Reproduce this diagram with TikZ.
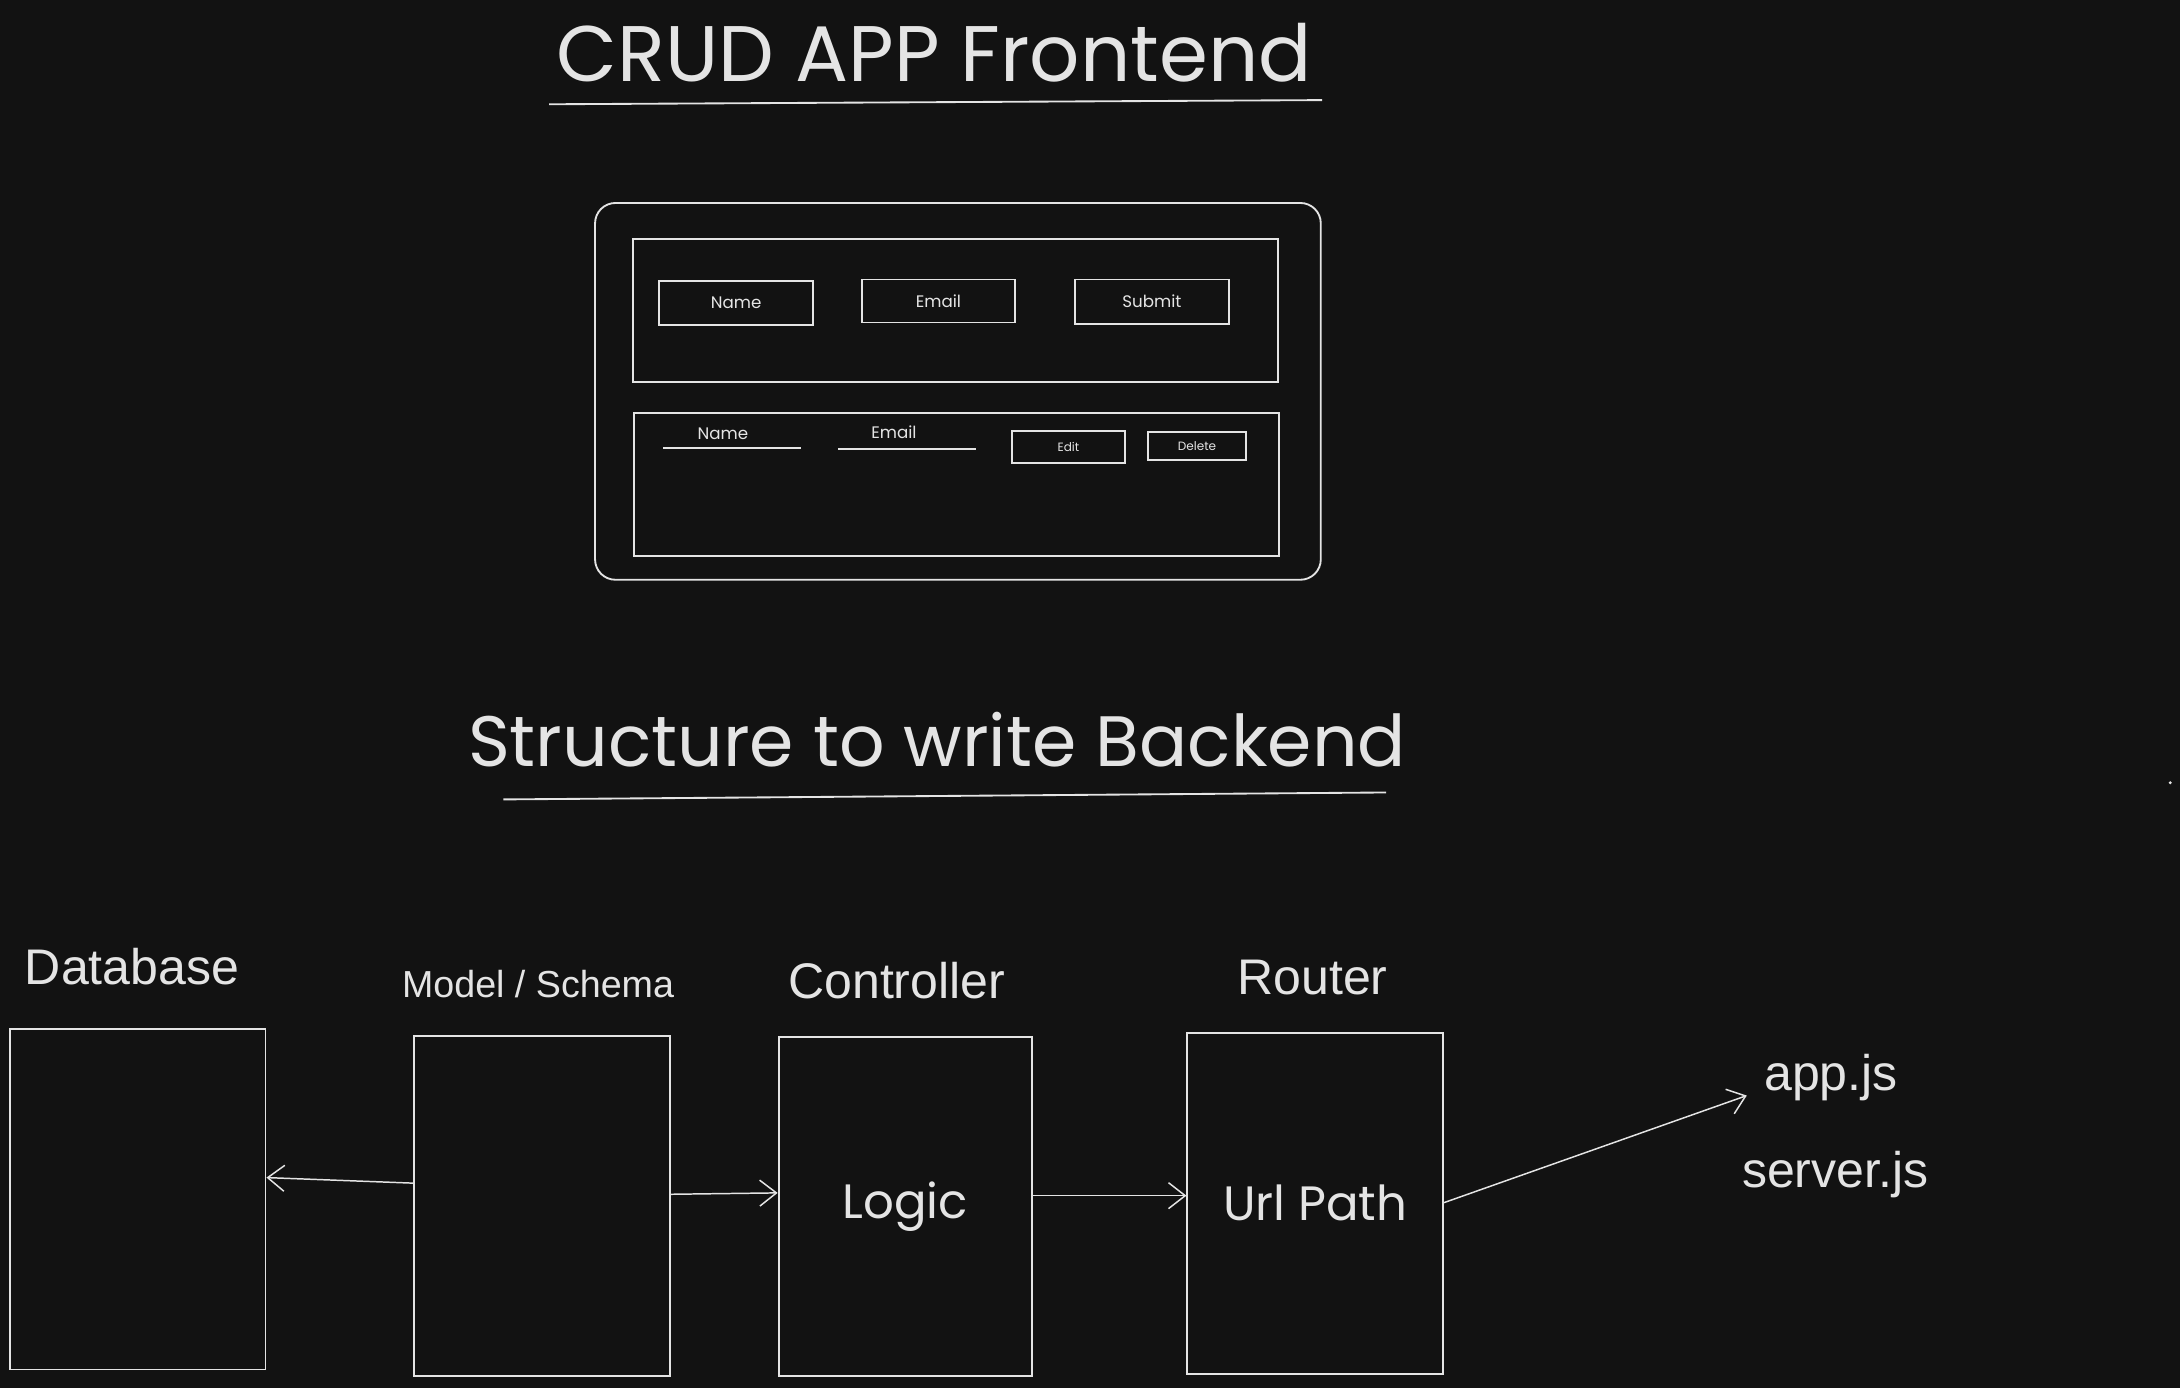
\documentclass[tikz,border=0pt]{standalone}
\usepackage{fontspec}
\setmainfont{Liberation Sans}
\newfontfamily\handfont{Poppins}
\usetikzlibrary{arrows.meta}
\definecolor{bgdark}{HTML}{121212}
\definecolor{chalk}{HTML}{E4E4E4}
\tikzset{
  sketch/.style={draw=chalk, line width=1pt},
  frame/.style={sketch, rectangle, inner sep=0pt, text=chalk, font=\handfont},
  label/.style={text=chalk, inner sep=0.75pt},
  arr/.style={chalk, line width=0.8pt, -{Straight Barb[length=9pt,width=14pt]}}
}
\begin{document}
\begin{tikzpicture}[x=0.75pt,y=0.75pt,yscale=-1,xscale=1]
%set diagram: 1568 x 998
\fill[bgdark] (0,0) rectangle (1568,998);

% Text Node
\node[label, font=\handfont\fontsize{42.5}{50}\selectfont] (ftitle) at (672,38) {CRUD APP Frontend};
%Straight Lines
\draw[sketch] (395,75) -- (951,72);

%Shape: Rectangle
\node[frame, rounded corners=11pt, minimum width=391.5pt, minimum height=203.25pt] (screen) at (689,281.5) {};
\node[frame, minimum width=348pt, minimum height=77.25pt] (form) at (687,223.5) {};
\node[frame, minimum width=83.25pt, minimum height=24pt, font=\handfont\fontsize{9}{11}\selectfont] (namebox) at (529.5,218) {Name};
\node[frame, minimum width=82.5pt, minimum height=23.25pt, font=\handfont\fontsize{9}{11}\selectfont] (emailbox) at (675,216.5) {Email};
\node[frame, minimum width=83.25pt, minimum height=24pt, font=\handfont\fontsize{9}{11}\selectfont] (submitbox) at (828.5,217) {Submit};
\node[frame, minimum width=348pt, minimum height=77.25pt] (list) at (688,348.5) {};
\node[frame, minimum width=60.75pt, minimum height=17.25pt, font=\handfont\fontsize{6.5}{8}\selectfont] (editbox) at (768.5,321.5) {Edit};
\node[frame, minimum width=52.5pt, minimum height=15pt, font=\handfont\fontsize{6.5}{8}\selectfont] (deletebox) at (861,321) {Delete};

% Text Node
\node[label, font=\handfont\fontsize{9}{11}\selectfont] (namecol) at (520,312) {Name};
\node[label, font=\handfont\fontsize{9}{11}\selectfont] (emailcol) at (643,311) {Email};
%Straight Lines
\draw[sketch] (477,322) -- (576,322);
\draw[sketch] (603,323) -- (702,323);

% Text Node
\node[label, font=\handfont\fontsize{38.5}{46}\selectfont] (btitle) at (674,532) {Structure to write Backend};
%Straight Lines
\draw[sketch] (362,575) -- (997,570);

%Shape: Rectangle
\node[frame, minimum width=138pt, minimum height=183.75pt] (db) at (99,862.5) {};
\node[frame, minimum width=138pt, minimum height=183.75pt] (model) at (390,867.5) {};
\node[frame, minimum width=136.5pt, minimum height=183pt, font=\handfont\fontsize{26}{30}\selectfont] (ctrl) at (651,868) {Logic};
\node[frame, minimum width=138pt, minimum height=183.75pt, font=\handfont\fontsize{26}{30}\selectfont] (router) at (946,865.5) {Url Path};

% Text Node
\node[label, font=\fontsize{27}{31}\selectfont] (dblbl) at (95,695) {Database};
\node[label, font=\fontsize{20.3}{24}\selectfont] (modellbl) at (387,708) {Model / Schema};
\node[label, font=\fontsize{27}{31}\selectfont] (ctrllbl) at (645,705) {Controller};
\node[label, font=\fontsize{27}{31}\selectfont] (routerlbl) at (944,703) {Router};
\node[label, font=\fontsize{27}{31}\selectfont] (app) at (1317,775) {app.js};
\node[label, font=\fontsize{27}{31}\selectfont] (server) at (1320,845) {server.js};

%Arrows
\draw[arr] (model.west |- 0,851) -- (db.east |- 0,847);
\draw[arr] (model.east |- 0,859) -- (ctrl.west |- 0,858);
\draw[arr] (ctrl.east |- 0,860) -- (router.west |- 0,860);
\draw[arr, shorten >=9pt] (router.east |- 0,865) -- (app.west |- 0,784);

%Shape: Dot
\fill[chalk] (1561,563) circle (1.2);

\end{tikzpicture}
\end{document}
